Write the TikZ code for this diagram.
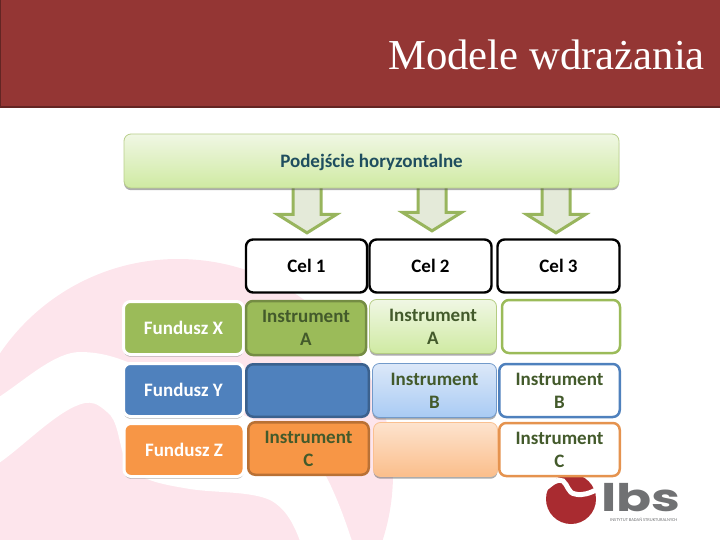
\documentclass[tikz,border=0pt]{standalone}
\usepackage{fontspec}
\setmainfont{Carlito}
\newfontfamily\titlefont{Liberation Serif}
\newfontfamily\logofont{Poppins}
\usepackage{xcolor}
\usetikzlibrary{shapes.arrows,shadows}
\definecolor{bordo}{HTML}{943634}
\definecolor{bordociemne}{HTML}{632523}
\definecolor{roz}{HTML}{FDE5EC}
\definecolor{zielen}{HTML}{9BBB59}
\definecolor{niebieski}{HTML}{4F81BD}
\definecolor{pomarancz}{HTML}{F79646}
\definecolor{tekst}{HTML}{435A2B}
\definecolor{szary}{HTML}{707173}
\definecolor{logored}{HTML}{A92B30}
\definecolor{morski}{HTML}{1F4E5F}
\definecolor{zgora}{HTML}{F0F7E4}
\definecolor{zdol}{HTML}{CFEAA2}
\definecolor{ngora}{HTML}{DCE8F8}
\definecolor{ndol}{HTML}{A9CBF4}
\definecolor{pgora}{HTML}{FDE3CE}
\definecolor{pdol}{HTML}{FBBE8B}
\tikzset{
  wh/.style 2 args={minimum width=#1,minimum height=#2},
  box/.style={rectangle,rounded corners=7pt,align=center,inner sep=0pt,font=\fontsize{19}{23}\selectfont\bfseries,text=tekst},
  cien/.style={drop shadow={shadow xshift=0pt,shadow yshift=-2.2pt,opacity=0.5,fill=gray!70!black}},
  celbox/.style={box,draw=black,line width=2.4pt,fill=white,text=black},
  fundbox/.style={box,draw=white,line width=3pt,cien,text=white,text depth=-1.5pt},
  fullbox/.style={box,line width=2.5pt},
  softbox/.style={box,line width=0.8pt,cien},
  linebox/.style={box,line width=2.5pt,fill=white},
  blockarrow/.style={single arrow,draw=zielen!90!gray,fill=zielen!18!white!92!gray,line width=3pt,inner xsep=0pt,inner ysep=12.5pt,
    rotate=-90,minimum height=47pt,single arrow head extend=15.5pt,single arrow tip angle=116},
}
\begin{document}
\begin{tikzpicture}[x=1pt,y=-1pt]
  \useasboundingbox (0,0) rectangle (720,540);
  \begin{scope}
    \clip (0,0) rectangle (720,540);
    \fill[roz] (178,474) circle (215);
  \end{scope}
  \fill[white] (-1,397) .. controls (25,380) and (55,352) .. (80,352)
    .. controls (105,352) and (125,360) .. (150,372)
    .. controls (190,392) and (250,415) .. (290,440)
    .. controls (310,455) and (320,465) .. (327,478)
    .. controls (338,500) and (345,520) .. (352,541) -- (300,541)
    .. controls (293,522) and (285,508) .. (270,500)
    .. controls (250,491) and (215,493) .. (190,489)
    .. controls (160,484) and (135,480) .. (125,460)
    .. controls (118,440) and (118,420) .. (107,412)
    .. controls (97,403) and (92,402) .. (85,403)
    .. controls (60,408) and (25,445) .. (-1,463) -- cycle;
  \fill[bordo] (0,0) rectangle (720,107);
  \draw[bordociemne,line width=2pt] (0,0) -- (0,107) -- (720,107);
  \node[anchor=base east,inner sep=0pt,text=white,font=\titlefont\fontsize{42.7}{46}\selectfont] (tytul) at (705,70) {Modele wdrażania};
  % logo
  \fill[logored] (571,499) circle (25);
  \draw[white,line width=5pt,line cap=round] (546,488) .. controls (552,483) and (558,478) .. (563,481)
    .. controls (568,485) and (568,493) .. (575,494) .. controls (583,496) and (590,493) .. (598,489);
  \node[inner sep=0pt,text=szary,xscale=1.36,transform shape,font=\logofont\bfseries\fontsize{38}{38}\selectfont,anchor=base west] (lbs) at (601,511.5) {lbs};
  \node[inner sep=0pt,text=szary,anchor=base west,font=\fontsize{4.5}{5}\selectfont] (instytut) at (610,521) {INSTYTUT BADAŃ STRUKTURALNYCH};
  % strzalki
  \foreach \n/\x/\y in {s1/307/205,s2/432/203,s3/556/205}
    \node[blockarrow] (\n) at (\x,\y) {};
  \node[box,wh={495}{54},draw=zielen!70!white,line width=0.8pt,top color=zgora,bottom color=zdol,
    cien,text=morski,text depth=-4pt] (hor) at (371.5,161) {Podejście horyzontalne};
  % cele
  \node[celbox,wh={121}{53}] (cel1) at (306.5,266) {Cel 1};
  \node[celbox,wh={122}{53}] (cel2) at (430.5,266) {Cel 2};
  \node[celbox,wh={122}{53}] (cel3) at (558.5,266) {Cel 3};
  % fundusze
  \node[fundbox,wh={120}{53},fill=zielen] (fx) at (183.5,328) {Fundusz X};
  \node[fundbox,wh={120}{53},fill=niebieski] (fy) at (183.5,390) {Fundusz Y};
  \node[fundbox,wh={120}{53},fill=pomarancz] (fz) at (184,450) {Fundusz Z};
  % kolumna 1
  \node[fullbox,wh={120}{54},draw=zielen!75!black,fill=zielen] (a1) at (306,328) {Instrument\\A};
  \node[fullbox,wh={122.5}{52.5},draw=niebieski!75!black,fill=niebieski] (b1) at (307.5,390.5) {};
  \node[fullbox,wh={120.5}{52.5},draw=pomarancz!75!black,fill=pomarancz] (c1) at (308.5,448.5) {Instrument\\C};
  % kolumna 2
  \node[softbox,wh={127}{54},draw=zielen!75!white,top color=zgora,bottom color=zdol] (a2) at (433,326.5) {Instrument\\A};
  \node[softbox,wh={124}{54},draw=niebieski!80!white,top color=ngora,bottom color=ndol] (b2) at (434.5,390.5) {Instrument\\B};
  \node[softbox,wh={124}{54},draw=pomarancz!60!white,top color=pgora,bottom color=pdol] (c2) at (435.5,449.5) {};
  % kolumna 3
  \node[linebox,wh={118}{53},draw=zielen] (a3) at (561,326.5) {};
  \node[linebox,wh={120.5}{53},draw=niebieski] (b3) at (559.5,390.5) {Instrument\\B};
  \node[linebox,wh={120.5}{53},draw=pomarancz!85!gray] (c3) at (559.5,449.5) {Instrument\\C};
\end{tikzpicture}
\end{document}
